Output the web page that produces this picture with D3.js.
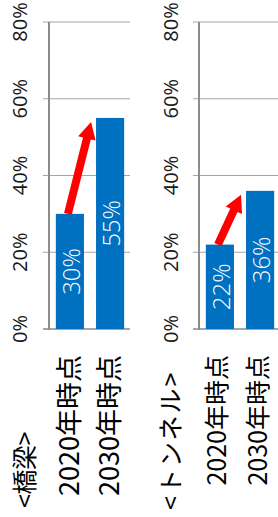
<!DOCTYPE html>
<html><head><meta charset="utf-8">
<script src="https://cdn.jsdelivr.net/npm/d3@7"></script>
<style>body{margin:0;background:#fff}svg{display:block}</style>
</head><body><svg id="c" width="278" height="517"></svg>
<script>
const categories = ["2020年時点", "2030年時点"];
const bridgeValues = [0.30, 0.55];
const tunnelValues = [0.22, 0.36];
const panelTitles = ["<橋梁>", "<トンネル>"];
const dataLabels = [["30%", "55%"], ["22%", "36%"]];
const tickValues = [0, 0.2, 0.4, 0.6, 0.8];
const tickLabels = ["0%", "20%", "40%", "60%", "80%"];

const svg = d3.select("#c");
const y = d3.scaleLinear().domain([0, 0.8]).range([329, 22]);
const BLUE = "#0070C0", GRID = "#A6A6A6", AXIS = "#8C8C8C", RED = "#FF0000";

const panels = [
  {values: bridgeValues, range: [49, 131], right: 130, title: panelTitles[0], labels: dataLabels[0],
   titlePos: [25, 508], titleSize: 25, titleSpacing: -0.5, catSize: 27, catDx: -1, tickX: 20},
  {values: tunnelValues, range: [199, 281], right: 278, title: panelTitles[1], labels: dataLabels[1],
   titlePos: [171, 510], titleSize: 25, titleSpacing: 2, catSize: 25, catDx: -2.5, tickX: 171}
];

panels.forEach(p => {
  const x = d3.scaleBand().domain(categories).range(p.range).paddingInner(0.3).paddingOuter(0.17);
  const g = svg.append("g");
  const x0 = p.range[0];
  g.selectAll("line.grid").data(tickValues).join("line")
    .attr("x1", x0 - 6).attr("x2", p.right)
    .attr("y1", d => y(d)).attr("y2", d => y(d))
    .attr("stroke", GRID).attr("stroke-width", d => d === 0 ? 2 : 1.2);
  g.append("line").attr("x1", x0).attr("x2", x0).attr("y1", y(0.8)).attr("y2", y(0) + 1)
    .attr("stroke", AXIS).attr("stroke-width", 2);
  g.selectAll("text.tick").data(tickValues).join("text")
    .attr("transform", d => `translate(${p.tickX},${y(d)}) rotate(-90)`)
    .attr("text-anchor", "middle").attr("dy", "0.36em")
    .attr("font-family", "'Open Sans', 'Noto Sans', sans-serif").attr("font-size", 20)
    .attr("fill", "#1a1a1a")
    .text((d, i) => tickLabels[i]);
  g.selectAll("rect").data(p.values).join("rect")
    .attr("x", (d, i) => x(categories[i])).attr("width", x.bandwidth())
    .attr("y", d => y(d)).attr("height", d => y(0) - y(d))
    .attr("fill", BLUE);
  g.selectAll("text.val").data(p.values).join("text")
    .attr("transform", (d, i) => `translate(${x(categories[i]) + x.bandwidth() / 2 + 1},${(y(d) + y(0)) / 2}) rotate(-90)`)
    .attr("text-anchor", "middle").attr("dy", "0.36em")
    .attr("font-family", "'Open Sans', 'Noto Sans', sans-serif").attr("font-weight", 300)
    .attr("font-size", 24).attr("fill", "#fff")
    .text((d, i) => p.labels[i]);
  g.selectAll("text.cat").data(categories).join("text")
    .attr("transform", d => `translate(${x(d) + x.bandwidth() / 2 + p.catDx},355) rotate(-90)`)
    .attr("text-anchor", "end").attr("dy", "0.36em")
    .attr("font-family", "'Noto Sans CJK JP', sans-serif").attr("font-size", p.catSize)
    .attr("fill", "#000")
    .text(d => d);
  g.append("text")
    .attr("transform", `translate(${p.titlePos[0]},${p.titlePos[1]}) rotate(-90)`)
    .attr("text-anchor", "start").attr("dy", "0.36em")
    .attr("font-family", "'Noto Sans CJK JP', sans-serif").attr("font-size", p.titleSize)
    .attr("letter-spacing", p.titleSpacing)
    .attr("fill", "#000")
    .text(p.title);
  const bw = x.bandwidth();
  const sx = x(categories[0]) + 0.43 * bw, sy = y(p.values[0]);
  const ex = x(categories[1]) - 5, ey = y(p.values[1]) + 4;
  const dx = ex - sx, dy = ey - sy, L = Math.hypot(dx, dy);
  const ux = dx / L, uy = dy / L, nx = -uy, ny = ux;
  const sw = 4, hw = 9, hl = 17;
  const bx = ex - ux * hl, by = ey - uy * hl;
  const pts = [
    [sx + nx * sw, sy + ny * sw], [bx + nx * sw, by + ny * sw], [bx + nx * hw, by + ny * hw],
    [ex, ey], [bx - nx * hw, by - ny * hw], [bx - nx * sw, by - ny * sw], [sx - nx * sw, sy - ny * sw]
  ];
  g.append("path").attr("d", d3.line()(pts) + "Z").attr("fill", RED);
});
</script></body></html>
